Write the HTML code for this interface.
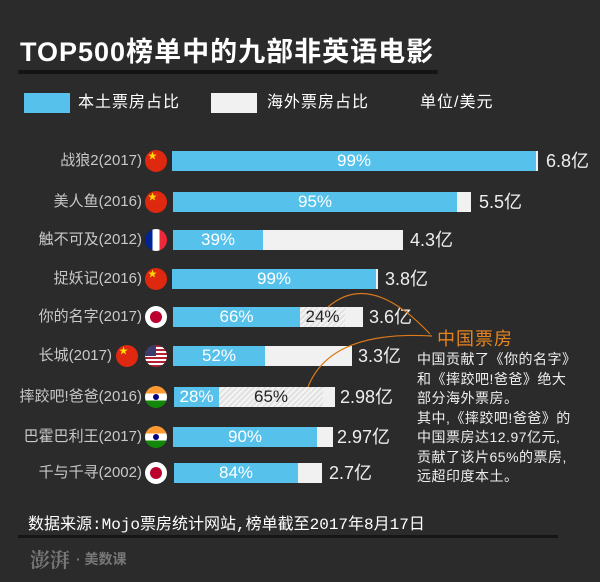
<!DOCTYPE html>
<html><head><meta charset="utf-8"><style>
body{margin:0;background:#2b2b2b;}
#c{position:relative;width:600px;height:582px;background:#2b2b2b;overflow:hidden;font-family:"Liberation Sans","Noto Sans CJK SC",sans-serif;color:#fff;}
.a{position:absolute;white-space:nowrap;}
.lab{position:absolute;right:458px;font-size:15px;color:#c8c8c8;line-height:20px;}
.bar{position:absolute;height:20px;background:#f1f1f1;}
.blue{position:absolute;left:0;top:0;height:20px;background:#56c1ea;text-align:center;font-size:17px;line-height:20px;color:#fff;}
.hat{position:absolute;top:0;height:20px;background:repeating-linear-gradient(135deg,#e2e2e2 0 2px,#f4f4f4 2px 4px);text-align:center;font-size:17px;line-height:20px;color:#222;}
.val{position:absolute;font-size:18px;line-height:20px;color:#eee;}
.flag{position:absolute;left:145px;width:22px;height:22px;border-radius:50%;overflow:hidden;}
.cn{background:#de2910;}
.cn:before{content:"★";position:absolute;left:3px;top:1px;font-size:9px;color:#ffde00;line-height:10px;}
.jp{background:#fff;}
.jp:before{content:"";position:absolute;left:5px;top:5px;width:12px;height:12px;border-radius:50%;background:#bc002d;}
.fr{background:linear-gradient(90deg,#002395 0 33%,#fff 33% 66%,#ed2939 66%);}
.in{background:linear-gradient(#ff9933 0 33%,#fff 33% 66%,#138808 66%);}
.in:before{content:"";position:absolute;left:8px;top:8px;width:6px;height:6px;border-radius:50%;background:#000080;}
.us{background:repeating-linear-gradient(#b22234 0 2px,#fff 2px 4px);}
.us:before{content:"";position:absolute;left:0;top:0;width:11px;height:11px;background:#3c3b6e;}
</style></head><body><div id="c">
<div class="a" style="left:18px;top:70px;width:420px;height:4px;background:#141414;border-radius:2px;"></div>
<div class="a" style="left:20px;top:34px;font-size:27px;line-height:36px;font-weight:bold;letter-spacing:1px;">TOP500榜单中的九部非英语电影</div>
<div class="a" style="left:24px;top:93px;width:46px;height:20px;background:#56c1ea;"></div>
<div class="a" style="left:78px;top:93px;font-size:16px;line-height:20px;letter-spacing:1px;">本土票房占比</div>
<div class="a" style="left:211px;top:93px;width:46px;height:20px;background:#f1f1f1;"></div>
<div class="a" style="left:267px;top:93px;font-size:16px;line-height:20px;letter-spacing:1px;">海外票房占比</div>
<div class="a" style="left:420px;top:93px;font-size:16px;line-height:20px;letter-spacing:1px;">单位/美元</div>

<div class="lab" style="top:151px">战狼2(2017)</div><div class="flag cn" style="top:150px"></div>
<div class="bar" style="left:172px;top:151px;width:366px"><div class="blue" style="width:364px">99%</div></div><div class="val" style="left:546px;top:151px">6.8亿</div>

<div class="lab" style="top:192px">美人鱼(2016)</div><div class="flag cn" style="top:191px"></div>
<div class="bar" style="left:173px;top:192px;width:298px"><div class="blue" style="width:284px">95%</div></div><div class="val" style="left:479px;top:192px">5.5亿</div>

<div class="lab" style="top:230px">触不可及(2012)</div><div class="flag fr" style="top:229px"></div>
<div class="bar" style="left:173px;top:230px;width:230px"><div class="blue" style="width:90px">39%</div></div><div class="val" style="left:410px;top:230px">4.3亿</div>

<div class="lab" style="top:269px">捉妖记(2016)</div><div class="flag cn" style="top:268px"></div>
<div class="bar" style="left:172px;top:269px;width:206px"><div class="blue" style="width:204px">99%</div></div><div class="val" style="left:385px;top:269px">3.8亿</div>

<div class="lab" style="top:307px">你的名字(2017)</div><div class="flag jp" style="top:306px"></div>
<div class="bar" style="left:173px;top:307px;width:190px"><div class="blue" style="width:127px">66%</div><div class="hat" style="left:127px;width:45px">24%</div></div><div class="val" style="left:369px;top:307px">3.6亿</div>

<div class="lab" style="top:346px;right:488px">长城(2017)</div><div class="flag cn" style="top:345px;left:116px"></div><div class="flag us" style="top:345px"></div>
<div class="bar" style="left:173px;top:346px;width:179px"><div class="blue" style="width:92px">52%</div></div><div class="val" style="left:358px;top:346px">3.3亿</div>

<div class="lab" style="top:387px">摔跤吧!爸爸(2016)</div><div class="flag in" style="top:386px"></div>
<div class="bar" style="left:174px;top:387px;width:161px"><div class="blue" style="width:45px">28%</div><div class="hat" style="left:45px;width:104px">65%</div></div><div class="val" style="left:340px;top:387px">2.98亿</div>

<div class="lab" style="top:427px">巴霍巴利王(2017)</div><div class="flag in" style="top:426px"></div>
<div class="bar" style="left:173px;top:427px;width:160px"><div class="blue" style="width:144px">90%</div></div><div class="val" style="left:337px;top:427px">2.97亿</div>

<div class="lab" style="top:463px">千与千寻(2002)</div><div class="flag jp" style="top:462px"></div>
<div class="bar" style="left:174px;top:463px;width:148px"><div class="blue" style="width:124px">84%</div></div><div class="val" style="left:329px;top:463px">2.7亿</div>

<svg class="a" style="left:0;top:0" width="600" height="582"><g fill="none" stroke="#d9791a" stroke-width="1.2">
<path d="M328 307 Q370 270 430 334"/><path d="M308 387 Q330 330 432 336"/></g></svg>
<div class="a" style="left:437px;top:325px;font-size:18px;color:#e8841f;letter-spacing:1px;">中国票房</div>
<div class="a" style="left:417px;top:350px;font-size:14px;line-height:19.5px;color:#eee;letter-spacing:0.5px;">中国贡献了《你的名字》<br>和《摔跤吧!爸爸》绝大<br>部分海外票房。<br>其中,《摔跤吧!爸爸》的<br>中国票房达12.97亿元,<br>贡献了该片65%的票房,<br>远超印度本土。</div>

<div class="a" style="left:18px;top:535px;width:540px;height:3px;background:#161616;"></div>
<div class="a" style="left:28px;top:515px;font-size:16px;line-height:20px;font-family:'Liberation Mono','Noto Sans CJK SC',monospace;">数据来源:Mojo票房统计网站,榜单截至2017年8月17日</div>
<div class="a" style="left:30px;top:544px;font-size:20px;font-weight:bold;color:#777;font-family:'Noto Serif CJK SC',serif;">澎湃</div>
<div class="a" style="left:76px;top:549px;font-size:14px;font-weight:bold;color:#777;">· 美数课</div>
</div></body></html>
